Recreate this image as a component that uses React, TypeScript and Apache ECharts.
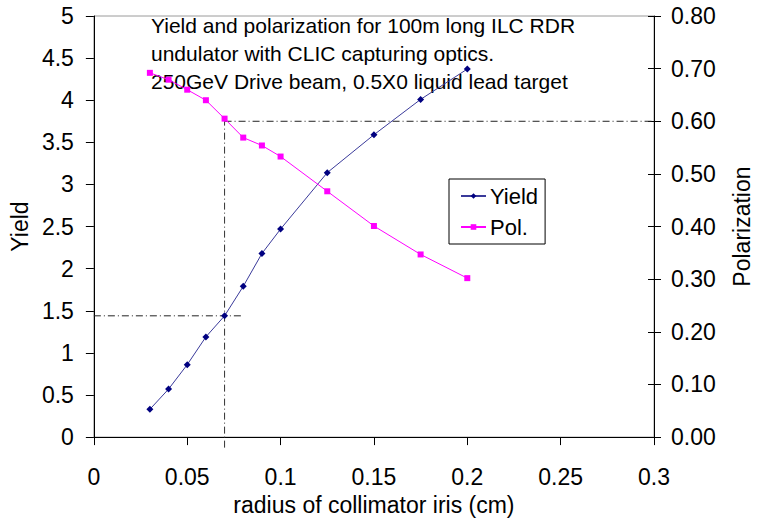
import React, { useEffect, useRef } from "react";
import * as echarts from "echarts";

const radius = [0.03, 0.04, 0.05, 0.06, 0.07, 0.08, 0.09, 0.1, 0.125, 0.15, 0.175, 0.2];
const yieldValues = [0.33, 0.57, 0.86, 1.19, 1.44, 1.79, 2.18, 2.47, 3.14, 3.59, 4.01, 4.37];
const polValues = [0.692, 0.679, 0.66, 0.64, 0.605, 0.569, 0.554, 0.533, 0.467, 0.401, 0.347, 0.302];

const xTickLabels = ["0", "0.05", "0.1", "0.15", "0.2", "0.25", "0.3"];
const yieldTickLabels = ["0", "0.5", "1", "1.5", "2", "2.5", "3", "3.5", "4", "4.5", "5"];
const polTickLabels = ["0.00", "0.10", "0.20", "0.30", "0.40", "0.50", "0.60", "0.70", "0.80"];

const guideRadius = 0.07;
const guideRadiusEnd = 0.08;
const guideYield = 1.44;
const guidePol = 0.6;
const guidePolBottom = -0.02;

const titleLines = [
  "Yield and polarization for 100m long ILC RDR",
  "undulator with CLIC capturing optics.",
  "250GeV Drive beam, 0.5X0 liquid lead target",
];

export default function App() {
  const ref = useRef<HTMLDivElement>(null);
  useEffect(() => {
    const chart = echarts.init(ref.current!, null, { renderer: "svg" });
    const font = "'Liberation Sans', Arial, sans-serif";
    const dash = [7, 3, 1, 3];
    const axisBase = {
      axisLine: { show: true, lineStyle: { color: "#000", width: 1 } },
      axisTick: { show: true, length: 8, lineStyle: { color: "#000" } },
      splitLine: { show: false },
      nameTextStyle: { fontFamily: font, fontSize: 23, color: "#000" },
    };
    chart.setOption({
      animation: false,
      backgroundColor: "#fff",
      textStyle: { fontFamily: font },
      grid: {
        left: 93,
        right: 106,
        top: 16,
        bottom: 81,
        show: true,
        borderColor: "#9a9a9a",
        borderWidth: 1,
      },
      xAxis: {
        ...axisBase,
        type: "value",
        min: 0,
        max: 0.3,
        interval: 0.05,
        name: "radius of collimator iris (cm)",
        nameLocation: "middle",
        nameGap: 55,
        axisLabel: {
          margin: 28,
          fontFamily: font,
          fontSize: 23,
          color: "#000",
          formatter: (v: number) => xTickLabels[Math.round(v / 0.05)] ?? "",
        },
      },
      yAxis: [
        {
          ...axisBase,
          type: "value",
          min: 0,
          max: 5,
          interval: 0.5,
          position: "left",
          name: "Yield",
          nameLocation: "middle",
          nameGap: 61,
          axisLabel: {
            margin: 20,
            fontFamily: font,
            fontSize: 23,
            color: "#000",
            formatter: (v: number) => yieldTickLabels[Math.round(v / 0.5)] ?? "",
          },
        },
        {
          ...axisBase,
          type: "value",
          min: 0,
          max: 0.8,
          interval: 0.1,
          position: "right",
          name: "Polarization",
          nameLocation: "middle",
          nameGap: 76,
          axisTick: { show: true, length: 7, lineStyle: { color: "#000" } },
          axisLabel: {
            margin: 17,
            fontFamily: font,
            fontSize: 23,
            color: "#000",
            formatter: (v: number) => polTickLabels[Math.round(v / 0.1)] ?? "",
          },
        },
        {
          type: "value",
          min: 0,
          max: 0.8,
          interval: 0.1,
          position: "right",
          axisLine: { show: false },
          axisTick: { show: true, inside: true, length: 6, lineStyle: { color: "#000" } },
          axisLabel: { show: false },
          splitLine: { show: false },
        },
      ],
      legend: {
        data: ["Yield", "Pol."],
        orient: "vertical",
        left: 449,
        top: 179,
        borderColor: "#000",
        borderWidth: 1,
        padding: [6, 7, 6, 11],
        itemWidth: 25,
        itemHeight: 7,
        itemGap: 9,
        textStyle: { fontFamily: font, fontSize: 22, color: "#000", padding: [0, 0, 0, -1] },
      },
      graphic: [
        {
          type: "text",
          x: 151,
          y: 11,
          silent: true,
          style: {
            text: titleLines.join("\n"),
            font: `21px ${font}`,
            lineHeight: 28,
            fill: "#000",
          },
        },
      ],
      series: [
        {
          type: "line",
          clip: false,
          yAxisIndex: 0,
          data: [[0, guideYield], [guideRadiusEnd, guideYield]],
          symbol: "none",
          silent: true,
          lineStyle: { color: "#222", width: 1, type: dash },
        },
        {
          type: "line",
          clip: false,
          yAxisIndex: 1,
          data: [[guideRadius, guidePolBottom], [guideRadius, guidePol]],
          symbol: "none",
          silent: true,
          lineStyle: { color: "#333", width: 1, type: dash },
        },
        {
          type: "line",
          yAxisIndex: 1,
          data: [[guideRadius, guidePol], [0.3, guidePol]],
          symbol: "none",
          silent: true,
          lineStyle: { color: "#222", width: 1, type: dash },
        },
        {
          name: "Yield",
          type: "line",
          yAxisIndex: 0,
          data: radius.map((r, i) => [r, yieldValues[i]]),
          symbol: "diamond",
          symbolSize: 7,
          itemStyle: { color: "#000080" },
          lineStyle: { color: "#3a3a9a", width: 1 },
        },
        {
          name: "Pol.",
          type: "line",
          yAxisIndex: 1,
          data: radius.map((r, i) => [r, polValues[i]]),
          symbol: "rect",
          symbolSize: 6,
          itemStyle: { color: "#ff00ff" },
          lineStyle: { color: "#ff00ff", width: 1 },
        },
      ],
    });
    return () => chart.dispose();
  }, []);
  return <div ref={ref} style={{ position: "fixed", left: 0, top: 0, width: 761, height: 521 }} />;
}
